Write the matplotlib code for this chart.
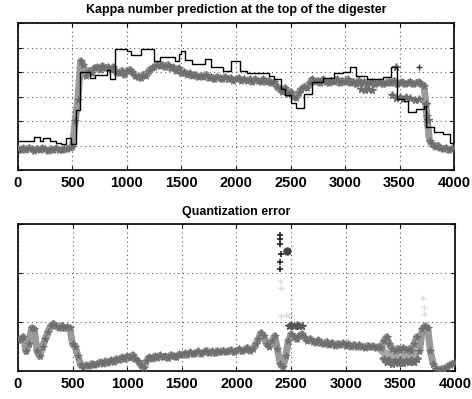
import numpy as np
import matplotlib
matplotlib.use("Agg")
import matplotlib.pyplot as plt
from matplotlib import font_manager as fm

# ---------------- data ----------------
x_grid = np.arange(0, 4001, 25)

# measured kappa (black step line), top panel
meas_x = [0, 150, 200, 230, 290, 352, 398, 444, 483, 535, 566, 660, 705, 815, 843,
          888, 1000, 1040, 1130, 1245, 1300, 1440, 1480, 1500, 1530, 1600, 1720, 1770,
          1880, 1950, 2040, 2100, 2300, 2350, 2410, 2450, 2500, 2550, 2620, 2700, 2800,
          2900, 2980, 3050, 3100, 3200, 3350, 3420, 3480, 3540, 3580, 3650, 3720, 3740,
          3820, 3900, 3960, 4000]
meas_y = [1.20, 1.33, 1.20, 1.29, 1.20, 1.12, 1.05, 1.32, 1.06, 2.45, 4.00, 3.75, 3.90, 4.10, 3.70,
          4.95, 4.85, 4.70, 4.95, 4.45, 4.60, 4.45, 4.75, 4.87, 4.50, 4.35, 4.55, 4.20,
          4.05, 4.45, 4.05, 3.95, 3.85, 3.70, 3.30, 3.05, 2.75, 2.55, 3.10, 3.60, 3.75,
          3.95, 4.00, 4.20, 3.85, 3.70, 3.80, 4.20, 2.90, 2.80, 2.35, 2.50, 2.60, 1.75,
          1.55, 1.45, 1.10, 1.10]

# predicted kappa (gray stars), top panel, every 25 samples
pred_y = [
    0.86, 0.80, 0.88, 0.83, 0.90, 0.85, 0.79, 0.87, 0.82, 0.89, 0.84, 0.78, 0.86, 0.81, 0.88, 0.83, 0.80, 0.87, 0.85, 0.90,
    0.95, 2.00, 2.85, 4.45, 4.30, 3.85, 4.05, 3.95, 4.15, 4.20, 4.10, 4.25, 4.15, 4.20, 4.10, 4.20, 4.00, 3.95, 4.05, 3.90,
    4.05, 4.10, 4.00, 3.85, 3.80, 3.75, 3.90, 3.85, 4.05, 4.15, 4.20, 4.30, 4.25, 4.30, 4.20, 4.30, 4.15, 4.20, 4.05, 4.15,
    3.95, 4.00, 3.90, 3.95, 3.85, 3.90, 3.80, 3.85, 3.80, 3.90, 3.75, 3.80, 3.70, 3.80, 3.75, 3.70, 3.80, 3.70, 3.75, 3.65,
    3.70, 3.75, 3.65, 3.70, 3.65, 3.70, 3.60, 3.70, 3.65, 3.60, 3.70, 3.60, 3.65, 3.55, 3.60, 3.40, 3.30, 3.20, 3.35, 3.10,
    3.20, 3.00, 2.95, 3.15, 3.30, 3.40, 3.35, 3.55, 3.70, 3.60, 3.65, 3.55, 3.70, 3.60, 3.55, 3.65, 3.60, 3.70, 3.55, 3.65,
    3.60, 3.70, 3.55, 3.60, 3.50, 3.65, 3.55, 3.60, 3.50, 3.55, 3.60, 3.50, 3.55, 3.60, 3.50, 3.55, 3.60, 3.55, 3.65, 3.50,
    3.55, 3.60, 3.50, 3.55, 3.60, 3.50, 3.55, 3.60, 3.50, 3.45, 2.20, 1.20, 1.05, 0.95, 1.00, 0.90, 0.85, 0.90, 0.80, 0.85,
    0.90]

pred_extra_x = [3150, 3180, 3210, 3250, 3430, 3470, 3500, 3530, 3560, 3600, 3640, 3680, 3470, 3740, 3760]
pred_extra_y = [3.30, 3.25, 3.30, 3.25, 3.05, 2.95, 3.00, 2.90, 3.00, 2.95, 2.85, 2.90, 4.20, 2.70, 2.05]
meas_out_x = [3680]
meas_out_y = [4.20]

# quantization error (gray stars), bottom panel, every 25 samples
err_y = [
    0.63, 0.65, 0.70, 0.40, 0.55, 0.88, 0.85, 0.40, 0.30, 0.50, 0.65, 0.80, 0.92, 0.97, 0.92, 0.88, 0.93, 0.87, 0.90, 0.88,
    0.55, 0.50, 0.30, 0.12, 0.08, 0.12, 0.10, 0.15, 0.12, 0.14, 0.18, 0.15, 0.20, 0.17, 0.22, 0.18, 0.25, 0.22, 0.28, 0.24,
    0.30, 0.27, 0.33, 0.25, 0.20, 0.12, 0.06, 0.20, 0.28, 0.25, 0.30, 0.27, 0.32, 0.28, 0.30, 0.26, 0.33, 0.30, 0.28, 0.34,
    0.32, 0.36, 0.33, 0.38, 0.34, 0.36, 0.40, 0.35, 0.38, 0.42, 0.37, 0.40, 0.36, 0.41, 0.38, 0.42, 0.39, 0.40, 0.43, 0.38,
    0.42, 0.45, 0.40, 0.44, 0.48, 0.42, 0.45, 0.55, 0.65, 0.78, 0.72, 0.55, 0.50, 0.62, 0.72, 0.45, 0.15, 0.08, 0.30, 0.62,
    0.75, 0.70, 0.65, 0.72, 0.76, 0.68, 0.62, 0.66, 0.60, 0.58, 0.63, 0.57, 0.55, 0.60, 0.54, 0.58, 0.52, 0.56, 0.53, 0.57,
    0.52, 0.55, 0.50, 0.54, 0.49, 0.53, 0.50, 0.48, 0.52, 0.49, 0.51, 0.47, 0.50, 0.48, 0.62, 0.70, 0.55, 0.45, 0.42, 0.46,
    0.44, 0.47, 0.43, 0.45, 0.42, 0.55, 0.70, 0.40, 0.85, 0.92, 0.88, 0.40, 0.15, 0.05, 0.03, 0.04, 0.05, 0.08, 0.12, 0.15,
    0.16]

err_low_x = [3350, 3375, 3400, 3425, 3450, 3475, 3500, 3525, 3550, 3575, 3600, 3625, 3650]
err_low_y = [0.25, 0.18, 0.22, 0.15, 0.20, 0.17, 0.22, 0.16, 0.20, 0.18, 0.23, 0.19, 0.25]
err_mid_y = [0.38, 0.32, 0.36, 0.30, 0.34, 0.31, 0.35, 0.30, 0.33, 0.32, 0.36, 0.33, 0.40]
err_hi_x = [2480, 2500, 2525, 2550, 2575, 2600]
err_hi_y = [0.92, 0.95, 0.93, 0.94, 0.92, 0.93]
err_spike_x = [2395, 2400, 2405, 2400, 2395, 2402]
err_spike_y = [2.79, 2.60, 2.40, 2.23, 2.09, 2.70]
err_circle_x = [2464]
err_circle_y = [2.46]
err_faint_x = [2400, 2410, 2450, 2480, 2500, 2410, 3710, 3715, 3712]
err_faint_y = [1.85, 1.70, 1.15, 1.12, 1.15, 1.12, 1.50, 1.30, 1.17]

xticks = [0, 500, 1000, 1500, 2000, 2500, 3000, 3500, 4000]
title_top = "Kappa number prediction at the top of the digester"
title_bot = "Quantization error"

# ---------------- style ----------------
names = {f.name for f in fm.fontManager.ttflist}
fam = "Liberation Sans Narrow" if "Liberation Sans Narrow" in names else "Liberation Sans"
plt.rcParams["font.family"] = [fam, "DejaVu Sans"]

fig = plt.figure(figsize=(4.72, 3.99), dpi=100)
ax1 = fig.add_axes([0.038, 0.574, 0.924, 0.368])
ax2 = fig.add_axes([0.038, 0.070, 0.926, 0.368])

band = "#9a9a9a"
star = "#6e6e6e"

# top panel
ax1.plot(x_grid, pred_y, color=band, lw=5.0, zorder=2, solid_joinstyle="round")
ax1.plot(x_grid, pred_y, ls="none", marker="*", ms=5.5, color=star, mew=0.6, zorder=3)
ax1.plot(pred_extra_x, pred_extra_y, ls="none", marker="*", ms=5.5, color=star, zorder=3)
ax1.step(meas_x, meas_y, where="post", color="black", lw=1.0, zorder=4)
ax1.plot(meas_out_x, meas_out_y, ls="none", marker="+", ms=5, color="#333333", zorder=4)
ax1.set_ylim(0, 6)
ax1.set_yticks([0, 1, 2, 3, 4, 5, 6])

# bottom panel
ax2.plot(x_grid, err_y, color=band, lw=5.0, zorder=2, solid_joinstyle="round")
ax2.plot(x_grid, err_y, ls="none", marker="*", ms=5.5, color=star, mew=0.6, zorder=3)
ax2.plot(err_low_x, err_low_y, color=band, lw=5.0, zorder=2)
ax2.plot(err_low_x, err_mid_y, color="#a8a8a8", lw=6.0, zorder=2)
ax2.plot(err_low_x, err_low_y, ls="none", marker="*", ms=5.5, color=star, zorder=3)
ax2.plot(err_hi_x, err_hi_y, ls="none", marker="*", ms=5.5, color="#555555", zorder=3)
ax2.plot(err_spike_x, err_spike_y, ls="none", marker="+", ms=5, mew=1.2, color="#222222", zorder=4)
ax2.plot(err_circle_x, err_circle_y, ls="none", marker="o", ms=5, color="#444444", zorder=4)
ax2.plot(err_faint_x, err_faint_y, ls="none", marker="+", ms=4, color="#dddddd", zorder=1)
ax2.set_ylim(0, 3)
ax2.set_yticks([0, 1, 2, 3])

for ax, t in ((ax1, title_top), (ax2, title_bot)):
    ax.set_xlim(0, 4000)
    ax.set_xticks(xticks)
    ax.set_xticklabels([str(v) for v in xticks], fontsize=10.5, fontweight="bold")
    ax.set_yticklabels([])
    ax.tick_params(direction="in", length=3, top=True, right=True, pad=4, width=0.8)
    ax.grid(True, color="#555555", ls=(0, (1, 3)), lw=0.8)
    ax.set_title(t, fontsize=9, fontweight="bold", pad=7)
    for s in ax.spines.values():
        s.set_linewidth(1.2)

fig.savefig("out.png", dpi=100)
